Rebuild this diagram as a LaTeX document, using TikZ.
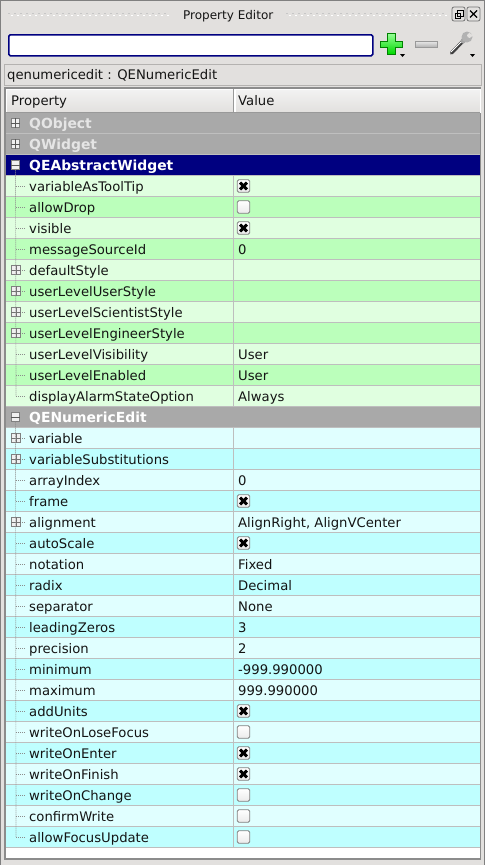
\documentclass[tikz,border=0pt]{standalone}
\usepackage{fontspec}
\setmainfont{DejaVu Sans}
\definecolor{winbg}{HTML}{E2E0DE}
\definecolor{frameln}{HTML}{B4B2B0}
\definecolor{rowln}{HTML}{BEBEBE}
\definecolor{groupbg}{HTML}{A9A9A9}
\definecolor{selbg}{HTML}{000080}
\definecolor{greenA}{HTML}{E0FFE0}
\definecolor{greenB}{HTML}{BBFFBB}
\definecolor{cyanA}{HTML}{E0FFFF}
\definecolor{cyanB}{HTML}{BFFFFF}
\definecolor{txt}{HTML}{141414}
\tikzset{
  lab/.style={anchor=base west,inner sep=0pt,text=txt,font=\fontsize{13.2}{16}\selectfont},
  grouplab/.style={lab,text=#1,font=\fontsize{13.9}{16}\selectfont\bfseries},
  valtext/.style={lab,xshift=-5.5pt,yshift=-5pt},
  chkoff/.style={draw=black!50,top color=white,bottom color=black!8,rounded corners=1.5pt,minimum size=12.5pt,inner sep=0pt,line width=.8pt,anchor=center},
  chkon/.style={chkoff,path picture={
    \draw[black,line width=3pt] (path picture bounding box.center)++(-3.4,-3.4) -- ++(6.8,6.8);
    \draw[black,line width=3pt] (path picture bounding box.center)++(-3.4,3.4) -- ++(6.8,-6.8);}},
  expbox/.style={draw=black!50,fill=black!6,minimum size=8.5pt,inner sep=0pt,line width=.7pt},
  treeline/.style={black!45,line width=.7pt,dash pattern=on 1pt off 1pt},
  winbtn/.style={draw=black!55,fill=winbg,rounded corners=2pt,line width=.8pt},
  hdrcell/.style={draw=white,shade,top color=black!5,bottom color=winbg,line width=.6pt},
  gripdark/.style={black!22,line width=1.5pt,dash pattern=on 2pt off 4pt},
  griplight/.style={white,line width=1.5pt,dash pattern=on 2pt off 4pt},
}
% one property row: index, name, tree mark, value style, value, light, dark
\newcommand{\proprow}[7]{
  \pgfmathtruncatemacro{\rowy}{123+21*#1}
  \ifodd#1\relax\def\rowfill{#6}\else\def\rowfill{#7}\fi
  \fill[\rowfill] (6,\rowy-10.5) rectangle (480,\rowy+10.5);
  \draw[rowln] (6,\rowy+10.5) -- (480,\rowy+10.5);
  \draw[rowln] (233.5,\rowy-10.5) -- (233.5,\rowy+10.5);
  \node[lab] (name#1) at (29,\rowy+5) {#2};
  \coordinate (stem#1) at (16,\rowy);
  \draw[treeline] (stem#1) -- (26,\rowy);
  \ifx#3p\node[expbox] (exp#1) at (stem#1) {};
    \draw[black!55,line width=.8pt] (exp#1.west) -- (exp#1.east) (exp#1.north) -- (exp#1.south);\fi
  \ifx#4n\else\node[#4] (val#1) at (243.5,\rowy) {#5};\fi
}
\newcommand{\grouprow}[5]{
  \pgfmathtruncatemacro{\rowy}{123+21*#1}
  \fill[#4] (6,\rowy-10.5) rectangle (480,\rowy+10.5);
  \draw[white!75!black] (6,\rowy+10.5) -- (480,\rowy+10.5);
  \node[grouplab=#3] (name#1) at (29,\rowy+5) {#2};
  \node[expbox] (exp#1) at (15.5,\rowy) {};
  \draw[black!65,line width=.9pt] (exp#1.west) -- (exp#1.east);
  \ifx#5p\draw[black!65,line width=.9pt] (exp#1.north) -- (exp#1.south);\fi
}
\begin{document}
\begin{tikzpicture}[x=1pt,y=-1pt]
\useasboundingbox (0,0) rectangle (485,865);
\fill[winbg] (0,0) rectangle (485,865);
\draw[black!50,line width=1pt] (.5,865) -- (.5,.5) -- (484.5,.5) -- (484.5,865);
% title bar
\node[lab,font=\fontsize{12}{16}\selectfont] (title) at (183,19) {Property Editor};
\draw[gripdark] (8,13.5) -- (168,13.5);
\draw[griplight] (11,15.5) -- (170,15.5);
\draw[gripdark] (286,13.5) -- (447,13.5);
\draw[griplight] (289,15.5) -- (449,15.5);
\draw[winbtn] (452,7) rectangle (465,21);
\draw[black,line width=.9pt] (457,10) rectangle (463,16) (455,13) rectangle (460,18.5);
\draw[winbtn] (467,7) rectangle (480,21);
\draw[black,line width=1.4pt] (470,10.5) -- (477,17.5) (477,10.5) -- (470,17.5);
% tool row
\node[draw=selbg,fill=white,line width=1.6pt,rounded corners=1.5pt,minimum width=364pt,minimum height=21pt,inner sep=0pt,anchor=north west] (filter) at (8,34) {};
\path[draw=green!50!black,line width=.7pt,top color=green!40!white,bottom color=green!85!black]
  (387,33) -- (395,33) -- (395,41) -- (402,41) -- (402,47) -- (395,47) -- (395,54) -- (387,54) -- (387,47) -- (380,47) -- (380,41) -- (387,41) -- cycle;
\path[draw=black!40,line width=.7pt,top color=black!8,bottom color=black!30] (415,41) rectangle (437,47);
\fill[black] (400,54) -- (405,54) -- (402.5,57) -- cycle;
\fill[black] (470,54) -- (475,54) -- (472.5,57) -- cycle;
\draw[black!75,line width=3.5pt,line cap=round] (451.5,53) -- (463,41);
\draw[white,line width=.8pt] (451,52) -- (463,40);
\draw[black!35,line width=5pt,line cap=round] (463,41) -- (466,38);
\fill[black!30] (467,37) circle (5.5pt);
\fill[winbg] (470,37) -- (474,31) -- (476,35) -- cycle;
\fill[winbg] (469.5,35.5) circle (2.4pt);
% object name
\node[draw=frameln,line width=.8pt,minimum width=477pt,minimum height=21pt,inner sep=0pt,anchor=north west] (objlabel) at (4,64) {};
\node[lab] (objname) at (7,79.5) {qenumericedit : QENumericEdit};
% table
\fill[white] (5,88) rectangle (480,859);
\draw[black!45,line width=1.6pt] (5,88) -- (5,859) -- (480.5,859) -- (480.5,88) -- cycle;
\node[hdrcell,minimum width=228pt,minimum height=23pt,inner sep=0pt,anchor=north west] (hprop) at (6,89) {};
\node[hdrcell,minimum width=245pt,minimum height=23pt,inner sep=0pt,anchor=north west] (hval) at (235,89) {};
\draw[black!40] (6,112.5) -- (480,112.5) (233.5,89) -- (233.5,112.5);
\node[lab] (hproptxt) at (11,105) {Property};
\node[lab] (hvaltxt) at (238,105) {Value};
% groups
\grouprow{0}{QObject}{white!90!black}{groupbg}{p}
\grouprow{1}{QWidget}{white!90!black}{groupbg}{p}
\grouprow{2}{QEAbstractWidget}{white}{selbg}{m}
\grouprow{14}{QENumericEdit}{white}{groupbg}{m}
% rows
\proprow{3}{variableAsToolTip}{l}{chkon}{}{greenA}{greenB}
\proprow{4}{allowDrop}{l}{chkoff}{}{greenA}{greenB}
\proprow{5}{visible}{l}{chkon}{}{greenA}{greenB}
\proprow{6}{messageSourceId}{l}{valtext}{0}{greenA}{greenB}
\proprow{7}{defaultStyle}{p}{n}{}{greenA}{greenB}
\proprow{8}{userLevelUserStyle}{p}{n}{}{greenA}{greenB}
\proprow{9}{userLevelScientistStyle}{p}{n}{}{greenA}{greenB}
\proprow{10}{userLevelEngineerStyle}{p}{n}{}{greenA}{greenB}
\proprow{11}{userLevelVisibility}{l}{valtext}{User}{greenA}{greenB}
\proprow{12}{userLevelEnabled}{l}{valtext}{User}{greenA}{greenB}
\proprow{13}{displayAlarmStateOption}{l}{valtext}{Always}{greenA}{greenB}
\proprow{15}{variable}{p}{n}{}{cyanA}{cyanB}
\proprow{16}{variableSubstitutions}{p}{n}{}{cyanA}{cyanB}
\proprow{17}{arrayIndex}{l}{valtext}{0}{cyanA}{cyanB}
\proprow{18}{frame}{l}{chkon}{}{cyanA}{cyanB}
\proprow{19}{alignment}{p}{valtext}{AlignRight, AlignVCenter}{cyanA}{cyanB}
\proprow{20}{autoScale}{l}{chkon}{}{cyanA}{cyanB}
\proprow{21}{notation}{l}{valtext}{Fixed}{cyanA}{cyanB}
\proprow{22}{radix}{l}{valtext}{Decimal}{cyanA}{cyanB}
\proprow{23}{separator}{l}{valtext}{None}{cyanA}{cyanB}
\proprow{24}{leadingZeros}{l}{valtext}{3}{cyanA}{cyanB}
\proprow{25}{precision}{l}{valtext}{2}{cyanA}{cyanB}
\proprow{26}{minimum}{l}{valtext}{-999.990000}{cyanA}{cyanB}
\proprow{27}{maximum}{l}{valtext}{999.990000}{cyanA}{cyanB}
\proprow{28}{addUnits}{l}{chkon}{}{cyanA}{cyanB}
\proprow{29}{writeOnLoseFocus}{l}{chkoff}{}{cyanA}{cyanB}
\proprow{30}{writeOnEnter}{l}{chkon}{}{cyanA}{cyanB}
\proprow{31}{writeOnFinish}{l}{chkon}{}{cyanA}{cyanB}
\proprow{32}{writeOnChange}{l}{chkoff}{}{cyanA}{cyanB}
\proprow{33}{confirmWrite}{l}{chkoff}{}{cyanA}{cyanB}
\proprow{34}{allowFocusUpdate}{l}{chkoff}{}{cyanA}{cyanB}
% tree stems
\draw[treeline] (exp2) -- (stem13);
\draw[treeline] (exp14) -- (stem34);
\end{tikzpicture}
\end{document}
